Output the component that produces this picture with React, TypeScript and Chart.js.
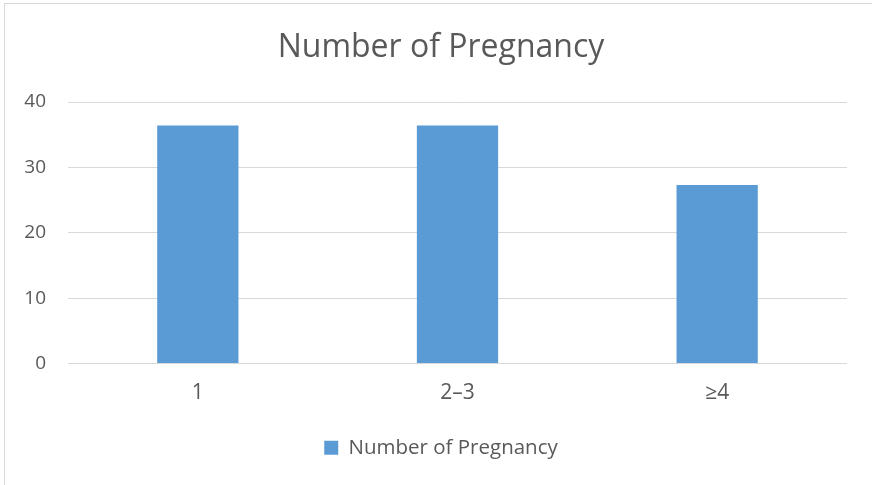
import React, { useEffect, useRef } from "react";
import { Chart, registerables } from "chart.js";

Chart.register(...registerables);

const categories = ["1", "2–3", "≥4"];
const seriesName = "Number of Pregnancy";
const seriesValues = [36.4, 36.4, 27.3];
const yTicks = [0, 10, 20, 30, 40];

const FONT = "'Open Sans', 'Liberation Sans', sans-serif";
const TEXT = "#595959";
const GRID = "#d9d9d9";
const BAR = "#5b9bd5";

export default function App() {
  const canvasRef = useRef<HTMLCanvasElement | null>(null);

  useEffect(() => {
    if (!canvasRef.current) return;
    const chart = new Chart(canvasRef.current, {
      type: "bar",
      data: {
        labels: categories,
        datasets: [
          {
            label: seriesName,
            data: seriesValues,
            backgroundColor: BAR,
            borderWidth: 0,
            barPercentage: 0.313,
            categoryPercentage: 1,
          },
        ],
      },
      options: {
        responsive: false,
        animation: false,
        layout: { padding: { top: 10, left: 20, right: 10, bottom: 17 } },
        plugins: {
          tooltip: { enabled: false },
          title: {
            display: true,
            text: seriesName,
            color: TEXT,
            font: { family: FONT, size: 32, weight: "normal" },
            padding: { top: 19, bottom: 34.6 },
          },
          legend: {
            position: "bottom",
            labels: {
              color: TEXT,
              boxWidth: 14,
              boxHeight: 14,
              padding: 10,
              font: { family: FONT, size: 20.5 },
            },
          },
        },
        scales: {
          x: {
            grid: { display: false, drawTicks: false },
            border: { display: false },
            ticks: { color: TEXT, padding: 17, font: { family: FONT, size: 21 } },
            afterFit: (scale: any) => {
              scale.height = 64;
            },
          },
          y: {
            min: yTicks[0],
            max: yTicks[yTicks.length - 1],
            grid: { color: GRID, lineWidth: 1, drawTicks: false },
            border: { display: false },
            afterBuildTicks: (scale: any) => {
              scale.ticks = yTicks.map((v) => ({ value: v }));
            },
            ticks: { color: TEXT, padding: 22, font: { family: FONT, size: 19 } },
            afterFit: (scale: any) => {
              scale.width = 48;
            },
          },
          // empty spacer on the right so the plot ends short of the frame edge
          yRight: {
            type: "linear",
            position: "right",
            grid: { display: false, drawTicks: false },
            border: { display: false },
            ticks: { display: false },
            afterFit: (scale: any) => {
              scale.width = 15;
            },
          },
        },
      },
    });
    return () => chart.destroy();
  }, []);

  return (
    <div
      style={{
        position: "fixed",
        left: 0,
        top: 0,
        width: 872,
        height: 485,
        overflow: "hidden",
        background: "#ffffff",
      }}
    >
      <div
        style={{
          position: "absolute",
          left: 4,
          top: 3,
          width: 900,
          height: 520,
          border: `1px solid ${GRID}`,
        }}
      />
      <canvas
        ref={canvasRef}
        width={872}
        height={485}
        style={{ position: "absolute", left: 0, top: 0 }}
      />
    </div>
  );
}
